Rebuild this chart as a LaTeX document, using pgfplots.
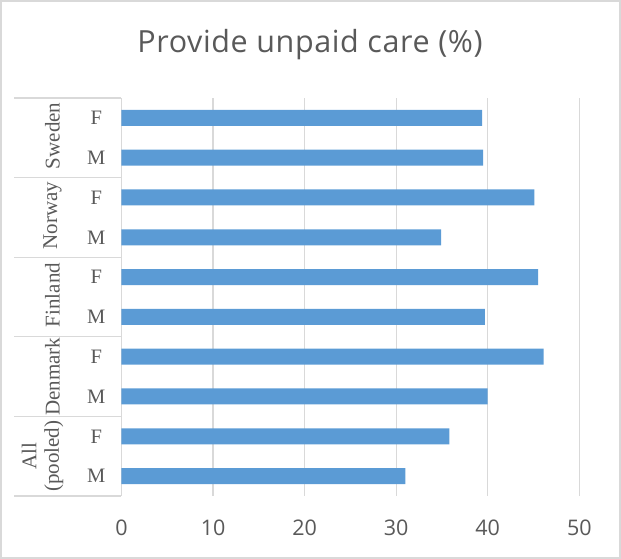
\documentclass[border=0pt]{standalone}
\usepackage{pgfplots}
\pgfplotsset{compat=1.18}
\usepackage{fontspec}
\setmainfont{Liberation Serif}
\newfontfamily\titlefont[LetterSpace=2]{Open Sans}
\newfontfamily\tickfont{Open Sans}
\definecolor{barblue}{HTML}{5B9BD5}
\definecolor{gridgray}{HTML}{D9D9D9}
\definecolor{txtgray}{HTML}{595959}
\begin{document}
\begin{tikzpicture}
\useasboundingbox (0,0) rectangle (621pt,559pt);
\draw[gridgray, line width=1.2pt] (1pt,1pt) rectangle (620pt,558pt);
\node[anchor=base, text=txtgray, inner sep=0pt] at (310pt,506pt) {\titlefont\fontsize{30.5}{34}\selectfont Provide unpaid care (\%)};
\begin{axis}[
  at={(121.5pt,63pt)}, anchor=south west,
  scale only axis, width=457.8pt, height=398pt,
  xbar, bar width=16pt,
  xmin=0, xmax=50, ymin=-0.5, ymax=9.5,
  xtick={0,10,20,30,40,50},
  ytick={0,...,9},
  yticklabels={M,F,M,F,M,F,M,F,M,F},
  axis line style={draw=none},
  major tick style={draw=none},
  xmajorgrids, grid style={gridgray, line width=1.3pt},
  /pgf/number format/assume math mode=true,
  xticklabel style={font=\tickfont\fontsize{21.5}{24}\selectfont, text=txtgray, anchor=north, inner sep=0pt, yshift=-24pt},
  yticklabel style={font=\fontsize{20.5}{22}\selectfont, text=txtgray, anchor=center, inner sep=0pt, xshift=-21pt},
  clip=false,
]
\addplot[fill=barblue, draw=none] coordinates {
  (31.0,0) (35.8,1) (40.0,2) (46.1,3) (39.7,4) (45.5,5) (34.9,6) (45.1,7) (39.5,8) (39.4,9)
};
\pgfplotsinvokeforeach{-0.5,1.5,3.5,5.5,7.5,9.5}{
  \draw[gridgray, line width=1.3pt] ([xshift=-107pt]axis cs:0,#1) -- (axis cs:0,#1);
}
\begin{scope}[every node/.style={rotate=90, text=txtgray, font=\fontsize{21}{22.5}\selectfont, inner sep=0pt}]
\node at ([xshift=-69pt]axis cs:0,8.55) {Sweden};
\node at ([xshift=-69pt]axis cs:0,6.55) {Norway};
\node at ([xshift=-69pt]axis cs:0,4.55) {Finland};
\node at ([xshift=-69pt]axis cs:0,2.5) {Denmark};
\node[align=center] at ([xshift=-79pt]axis cs:0,0.5) {All\\(pooled)};
\end{scope}
\end{axis}
\end{tikzpicture}
\end{document}
